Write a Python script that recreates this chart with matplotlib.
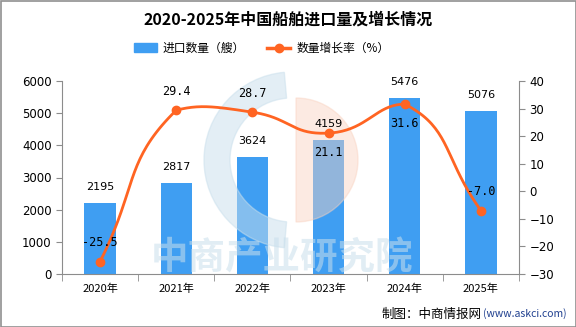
import numpy as np
import matplotlib
matplotlib.use("Agg")
from matplotlib import pyplot as plt
from matplotlib.patches import Wedge, Rectangle

plt.rcParams['font.family'] = ['Noto Sans CJK SC', 'DejaVu Sans']
plt.rcParams['axes.unicode_minus'] = False

years = ['2020年', '2021年', '2022年', '2023年', '2024年', '2025年']
imports = [2195, 2817, 3624, 4159, 5476, 5076]
growth = [-25.5, 29.4, 28.7, 21.1, 31.6, -7.0]
# label above (+1) or below (-1) each growth point
growth_label_side = [1, 1, 1, -1, -1, 1]

BAR_COLOR = '#3f9ef2'
LINE_COLOR = '#ff6422'
AXIS_COLOR = '#8c8c8c'


def smooth_curve(xs, ys, sx, sy, smooth=0.5, n=40):
    # bezier smoothing (echarts style), computed in pixel-like units sx, sy
    p = np.column_stack([np.asarray(xs, float) * sx, np.asarray(ys, float) * sy])
    lo, hi = p.min(axis=0), p.max(axis=0)
    cps = []
    for i in range(len(p)):
        prev = p[max(i - 1, 0)]
        nxt = p[min(i + 1, len(p) - 1)]
        v = nxt - prev
        l0 = np.hypot(*(p[i] - prev))
        l1 = np.hypot(*(nxt - p[i]))
        r = l1 / (l0 + l1) if l0 + l1 > 0 else 0.5
        c_in = np.clip(p[i] - v * smooth * (1 - r), lo, hi)
        c_out = np.clip(p[i] + v * smooth * r, lo, hi)
        cps.append((c_in, c_out))
    t = np.linspace(0, 1, n)[:, None]
    pts = []
    for i in range(len(p) - 1):
        a, b = p[i], p[i + 1]
        c1, c2 = cps[i][1], cps[i + 1][0]
        seg = ((1 - t) ** 3) * a + 3 * ((1 - t) ** 2) * t * c1 + 3 * (1 - t) * t ** 2 * c2 + t ** 3 * b
        pts.append(seg)
    pts = np.vstack(pts)
    return pts[:, 0] / sx, pts[:, 1] / sy


fig = plt.figure(figsize=(5.76, 3.27), dpi=100)
ax = fig.add_axes([62 / 576, 1 - 274 / 327, (519 - 62) / 576, (274 - 81) / 327])
ax2 = ax.twinx()

# overlay in figure pixels (legend, footer, watermark)
ov = fig.add_axes([0, 0, 1, 1], zorder=-1)
ov.set_xlim(0, 576)
ov.set_ylim(327, 0)
ov.axis('off')

x = np.arange(len(years))
ax.bar(x, imports, width=0.41, color=BAR_COLOR, zorder=2)
for xi, v in zip(x, imports):
    ax2.annotate(str(v), (xi, v), xycoords=ax.transData, xytext=(0, 8),
                 textcoords='offset points', ha='center', va='bottom', fontsize=8,
                 family=['DejaVu Sans'], zorder=5)

ax.set_xlim(-0.5, len(years) - 0.5)
ax.set_ylim(0, 6000)
ax.set_yticks(range(0, 6001, 1000))
ax.set_xticks(x)
ax.set_xticklabels(years, fontsize=8)
ax.set_xticks(np.arange(-0.5, len(years), 1), minor=True)
ax.tick_params(axis='x', which='major', length=0, pad=7)
ax.tick_params(axis='x', which='minor', length=5, color=AXIS_COLOR)
ax.tick_params(axis='y', length=4, color=AXIS_COLOR, labelsize=8.5)
for lab in ax.get_yticklabels():
    lab.set_family(['DejaVu Sans'])

# watermark: above the bars, below the line and labels
ax2.add_patch(Wedge((292, 160), 88, 95, 265, width=26, color='#c9dfec', alpha=0.5,
                    transform=ov.transData, clip_on=False, zorder=1))
ax2.add_patch(Wedge((296, 160), 62, -90, 90, color='#f9d2c0', alpha=0.45,
                    transform=ov.transData, clip_on=False, zorder=1))
ax2.text(282, 258, '中商产业研究院', ha='center', va='center', fontsize=27,
         fontweight='bold', color='#c9dfec', alpha=0.55, transform=ov.transData, zorder=1)

# pixels per category / per percent point
px_x = (519 - 62) / len(years)
px_y = (274 - 81) / 70
cx, cy = smooth_curve(x, growth, px_x, px_y)
ax2.plot(cx, cy, color=LINE_COLOR, lw=2, zorder=3)
ax2.plot(x, growth, 'o', color=LINE_COLOR, ms=6, zorder=4)
for xi, v, side in zip(x, growth, growth_label_side):
    ax2.annotate(f'{v:.1f}', (xi, v), xytext=(0, 9 * side), textcoords='offset points',
                 ha='center', va='bottom' if side > 0 else 'top', fontsize=8.5,
                 family=['DejaVu Sans Mono'], zorder=5)
ax2.set_ylim(-30, 40)
ax2.set_yticks(range(-30, 41, 10))
ax2.set_yticklabels([f'{t}'.replace('-', '−') for t in range(-30, 41, 10)])
ax2.tick_params(axis='y', length=4, color=AXIS_COLOR, labelsize=8.5)
for lab in ax2.get_yticklabels():
    lab.set_family(['DejaVu Sans'])

for a in (ax, ax2):
    a.spines['top'].set_visible(False)
    for s in ('left', 'right', 'bottom'):
        a.spines[s].set_color(AXIS_COLOR)
ax.spines['right'].set_visible(False)
ax2.spines['left'].set_visible(False)
ax2.spines['bottom'].set_visible(False)

fig.text(0.5, 1 - 20 / 327, '2020-2025年中国船舶进口量及增长情况', ha='center', va='center',
         fontsize=11.5, fontweight='bold')

ov.add_patch(Rectangle((134, 43), 23, 9, color=BAR_COLOR))
ov.text(163, 48, '进口数量（艘）', va='center', fontsize=8.5)
ov.plot([267, 290], [48, 48], color=LINE_COLOR, lw=2.5)
ov.plot([279], [48], 'o', color=LINE_COLOR, ms=6)
ov.text(297, 48, '数量增长率（%）', va='center', fontsize=8.5)

ov.text(482, 314, '制图：中商情报网', ha='right', va='center', fontsize=9)
ov.text(483, 314, '(www.askci.com)', ha='left', va='center', fontsize=7.5, color='#1f3f8f')
ov.add_patch(Rectangle((0.5, 0.5), 575, 326, fill=False, ec='#909090', lw=1.2))

fig.savefig('out.png', dpi=100)
